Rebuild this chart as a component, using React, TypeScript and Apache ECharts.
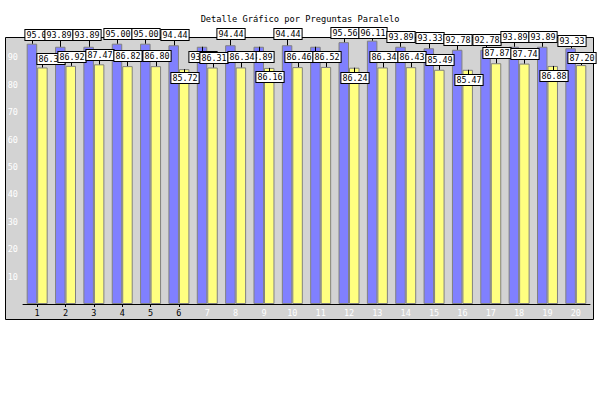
import React, { useEffect, useRef } from "react";
import * as echarts from "echarts";

const titleText = "Detalle Gráfico por Preguntas Paralelo";
const categories = ["1", "2", "3", "4", "5", "6", "7", "8", "9", "10", "11", "12", "13", "14", "15", "16", "17", "18", "19", "20"];
const blueValues = [95.0, 93.89, 93.89, 95.0, 95.0, 94.44, 93.89, 94.44, 93.89, 94.44, 93.89, 95.56, 96.11, 93.89, 93.33, 92.78, 92.78, 93.89, 93.89, 93.33];
const yellowValues = [86.33, 86.92, 87.47, 86.82, 86.8, 85.72, 86.31, 86.34, 86.16, 86.46, 86.52, 86.24, 86.34, 86.43, 85.49, 85.47, 87.87, 87.74, 86.88, 87.2];

// label box placement relative to the top of its bar (layout only, px)
const blueLabelDx = [6, -2, -3, 0, 0, 0, 0, 0, 0, 0, 0, 0, 0, 0, 0, 0, 0, 0, 0, 0];
const blueLabelDy = [-9, -12, -12, -10, -10, -10, 10, -11, 10, -11, 10, -9, -8, -10, -10, -10, -10, -10, -10, -7];
const yellowLabelDx = [8, 0, 0, 0, 0, 0, 0, 0, 0, 0, 0, 0, 0, 0, 0, 0, 0, 0, 0, 0];
const yellowLabelDy = [-8, -9, -9, -10, -10, 9, -10, -10, 9, -10, -10, 10, -10, -10, -10, 10, -10, -10, 10, -7];

const BAR_FRACTION = 0.37;
const MONO = '"DejaVu Sans Mono", monospace';

function labelSeries(values: number[], dxs: number[], dys: number[], side: number) {
  return {
    type: "custom",
    z: 5,
    clip: false,
    silent: true,
    encode: { x: 0, y: 1 },
    data: values.map((v, i) => [i, v, dxs[i], dys[i]]),
    renderItem: (_params: any, api: any) => {
      const cat = api.value(0);
      const val = api.value(1);
      const dx = api.value(2);
      const dy = api.value(3);
      const pt = api.coord([cat, val]);
      const band = api.size([1, 0])[0];
      const barW = band * BAR_FRACTION;
      const bx = Math.round(pt[0] + (side * barW) / 2) + 0.5;
      const top = pt[1];
      const cx = bx + dx;
      const cy = top + dy;
      const halfH = 5;
      const edge = dy < 0 ? cy + halfH : cy - halfH;
      return {
        type: "group",
        children: [
          {
            type: "line",
            shape: { x1: bx, y1: top, x2: bx, y2: edge },
            style: { stroke: "#000", lineWidth: 1 },
          },
          {
            type: "text",
            x: Math.round(cx),
            y: Math.round(cy),
            style: {
              text: Number(val).toFixed(2),
              fill: "#000",
              font: `8.4px ${MONO}`,
              align: "center",
              verticalAlign: "middle",
              backgroundColor: "#fff",
              borderColor: "#000",
              borderWidth: 1,
              padding: [1, 1, 1, 1],
            },
          },
        ],
      };
    },
  };
}

export default function App() {
  const ref = useRef<HTMLDivElement>(null);
  useEffect(() => {
    if (!ref.current) return;
    const chart = echarts.init(ref.current, undefined, { renderer: "svg" });
    chart.setOption({
      animation: false,
      backgroundColor: "#fff",
      title: {
        text: titleText,
        left: "center",
        top: 9,
        textStyle: { fontFamily: MONO, fontSize: 8.7, fontWeight: "normal", color: "#000" },
      },
      graphic: [
        {
          type: "rect",
          z: -1,
          silent: true,
          shape: { x: 5.5, y: 37.5, width: 588, height: 282 },
          style: { fill: "#d3d3d3", stroke: "#000", lineWidth: 1 },
        },
      ],
      grid: { left: 23, right: 10, top: 30, bottom: 96 },
      xAxis: {
        type: "category",
        data: categories,
        axisLine: { show: true, lineStyle: { color: "#000", width: 1 } },
        axisTick: {
          show: true,
          alignWithLabel: true,
          length: 3,
          interval: (index: number) => index < 6,
          lineStyle: { color: "#000" },
        },
        axisLabel: {
          margin: 4,
          fontFamily: MONO,
          fontSize: 8.5,
          color: (_v: any, index: number) => (index < 6 ? "#000" : "#fff"),
        },
        splitLine: { show: false },
      },
      yAxis: {
        type: "value",
        min: 0,
        max: 100,
        interval: 10,
        axisLine: { show: false },
        axisTick: { show: false },
        splitLine: { show: false },
        axisLabel: {
          showMinLabel: false,
          showMaxLabel: false,
          margin: 5,
          fontFamily: MONO,
          fontSize: 8.5,
          color: "#fff",
        },
      },
      series: [
        {
          type: "bar",
          data: blueValues,
          barWidth: "37%",
          barGap: "0%",
          itemStyle: { color: "#8080ff", borderColor: "#808080", borderWidth: 1 },
        },
        {
          type: "bar",
          data: yellowValues,
          barWidth: "37%",
          barGap: "0%",
          itemStyle: { color: "#ffff80", borderColor: "#808080", borderWidth: 1 },
        },
        labelSeries(blueValues, blueLabelDx, blueLabelDy, -1),
        labelSeries(yellowValues, yellowLabelDx, yellowLabelDy, 1),
      ],
    });
    return () => chart.dispose();
  }, []);
  return <div ref={ref} style={{ position: "fixed", left: 0, top: 0, width: 600, height: 400 }} />;
}
